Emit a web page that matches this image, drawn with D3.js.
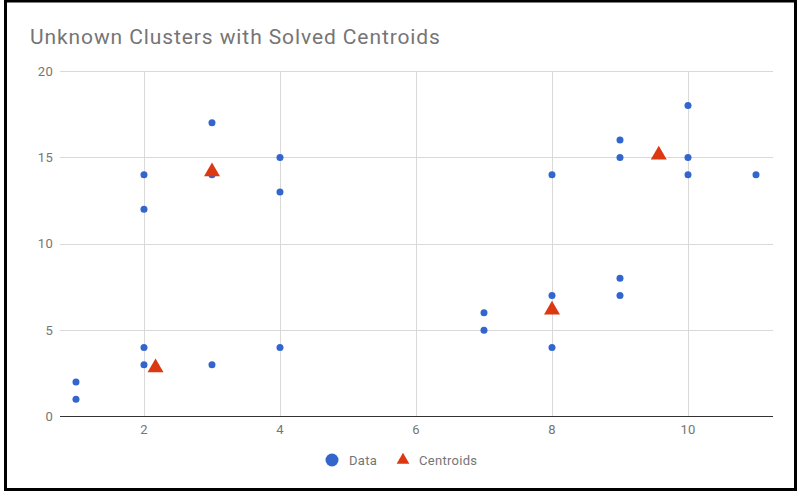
<!DOCTYPE html>
<html><head><meta charset="utf-8">
<script src="https://cdn.jsdelivr.net/npm/d3@7"></script>
<style>body{margin:0;background:#fff}svg{display:block}</style>
</head><body>
<svg id="c" width="797" height="492"></svg>
<script>
const dataX = [1,1,2,2,2,2,3,3,3,4,4,4,7,7,8,8,8,9,9,9,9,10,10,10,11];
const dataY = [2,1,14,12,4,3,17,14,3,15,13,4,6,5,14,7,4,16,15,8,7,18,15,14,14];
const centX = [2.17,3,8,9.57];
const centY = [2.83,14.17,6.17,15.14];
const xTicks = [2,4,6,8,10];
const yTicks = [0,5,10,15,20];
const title = "Unknown Clusters with Solved Centroids";
const legendLabels = ["Data","Centroids"];

const svg = d3.select("#c");
const font = "Roboto, Arial, sans-serif";
const x = d3.scaleLinear().domain([0.765,11.25]).range([60,773]);
const y = d3.scaleLinear().domain([0,20]).range([416.5,71]);

svg.append("rect").attr("x",5.5).attr("y",1).attr("width",790).attr("height",488.5)
  .attr("fill","#fff").attr("stroke","#000").attr("stroke-width",3);

svg.append("text").attr("x",30).attr("y",43.5).attr("font-family",font).attr("font-size",21)
  .attr("letter-spacing",0.9).attr("fill","#757575").text(title);

// gridlines
svg.append("g").selectAll("line").data(yTicks.filter(d=>d!==0)).join("line")
  .attr("x1",60).attr("x2",773).attr("y1",d=>Math.round(y(d))+0.5).attr("y2",d=>Math.round(y(d))+0.5)
  .attr("stroke","#d9d9d9");
svg.append("g").selectAll("line").data(xTicks).join("line")
  .attr("y1",71).attr("y2",416).attr("x1",d=>Math.round(x(d))+0.5).attr("x2",d=>Math.round(x(d))+0.5)
  .attr("stroke","#d9d9d9");
svg.append("line").attr("x1",60).attr("x2",773).attr("y1",416.5).attr("y2",416.5).attr("stroke","#333");

svg.append("g").selectAll("text").data(yTicks).join("text")
  .attr("x",53).attr("y",d=>y(d)+4.5).attr("text-anchor","end").attr("font-family",font)
  .attr("font-size",13).attr("letter-spacing",0.3).attr("fill","#757575").text(d=>d);
svg.append("g").selectAll("text").data(xTicks).join("text")
  .attr("x",d=>x(d)).attr("y",434).attr("text-anchor","middle").attr("font-family",font)
  .attr("font-size",13).attr("letter-spacing",0.3).attr("fill","#757575").text(d=>d);

svg.append("g").selectAll("circle").data(dataX.map((v,i)=>[v,dataY[i]])).join("circle")
  .attr("cx",d=>x(d[0])).attr("cy",d=>y(d[1])).attr("r",3.5).attr("fill","#3366cc");

const tri = d3.symbol().type(d3.symbolTriangle).size(110);
svg.append("g").selectAll("path").data(centX.map((v,i)=>[v,centY[i]])).join("path")
  .attr("d",tri).attr("transform",d=>`translate(${x(d[0])},${y(d[1])})`).attr("fill","#dc3912");

// legend
const lg = svg.append("g");
lg.append("circle").attr("cx",332).attr("cy",460).attr("r",6.5).attr("fill","#3366cc");
lg.append("text").attr("x",349).attr("y",465).attr("font-family",font).attr("font-size",13)
  .attr("letter-spacing",0.3).attr("fill","#757575").text(legendLabels[0]);
lg.append("path").attr("d",d3.symbol().type(d3.symbolTriangle).size(70)).attr("transform","translate(403,460)").attr("fill","#dc3912");
lg.append("text").attr("x",419).attr("y",465).attr("font-family",font).attr("font-size",13)
  .attr("letter-spacing",0.3).attr("fill","#757575").text(legendLabels[1]);
</script>
</body></html>
